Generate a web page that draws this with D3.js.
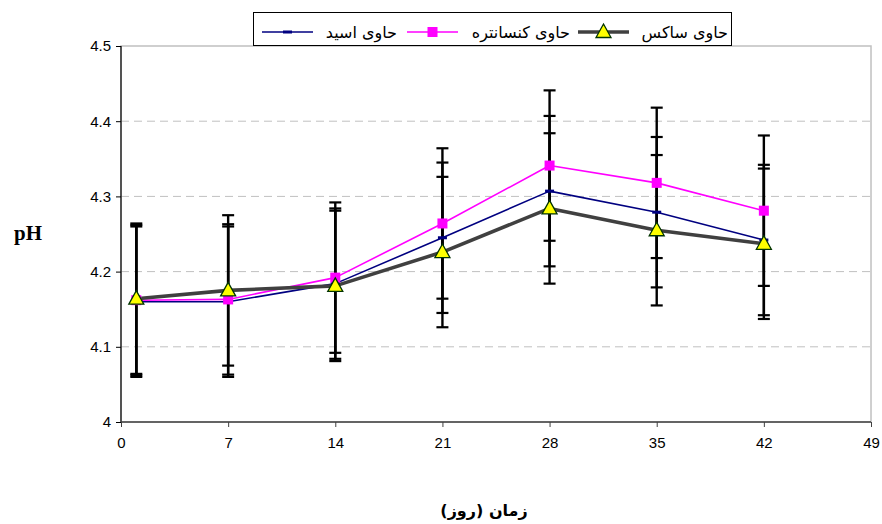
<!DOCTYPE html>
<html>
<head>
    <meta charset="UTF-8">
    <title>pH</title>
    <script src="https://d3js.org/d3.v7.min.js"></script>
    <style>
        html, body { margin: 0; padding: 0; background: #ffffff; overflow: hidden; }
        svg { display: block; }
    </style>
</head>
<body>
<svg width="882" height="524" id="mainsvg"></svg>
<script>
    // data
    const days = [1, 7, 14, 21, 28, 35, 42];
    const xTicks = [0, 7, 14, 21, 28, 35, 42, 49];
    const yTicks = [4, 4.1, 4.2, 4.3, 4.4, 4.5];
    const acid = [4.160, 4.160, 4.184, 4.245, 4.307, 4.279, 4.242];
    const concentrate = [4.162, 4.163, 4.192, 4.264, 4.341, 4.318, 4.281];
    const saks = [4.164, 4.175, 4.181, 4.226, 4.284, 4.255, 4.237];
    const errAcid = [0.1, 0.1, 0.1, 0.1, 0.1, 0.1, 0.1];
    const errConcentrate = [0.1, 0.1, 0.1, 0.1, 0.1, 0.1, 0.1];
    const errSaks = [0.1, 0.1, 0.1, 0.1, 0.1, 0.1, 0.1];
    const seriesNames = ['حاوی اسید', 'حاوی کنسانتره', 'حاوی ساکس'];

    const svg = d3.select('#mainsvg');
    const margin = {top: 46, right: 11, bottom: 102, left: 121};
    const innerWidth = 882 - margin.left - margin.right;
    const innerHeight = 524 - margin.top - margin.bottom;

    const xScale = d3.scaleLinear().domain([0, 49]).range([0, innerWidth]);
    const yScale = d3.scaleLinear().domain([4, 4.5]).range([innerHeight, 0]);

    const series = [
        {name: seriesNames[0], values: acid, err: errAcid, color: '#000080', width: 1.6, marker: 'dash'},
        {name: seriesNames[1], values: concentrate, err: errConcentrate, color: '#ff00ff', width: 1.6, marker: 'square'},
        {name: seriesNames[2], values: saks, err: errSaks, color: '#404040', width: 3.6, marker: 'triangle'}
    ];

    const g = svg.append('g').attr('transform', `translate(${margin.left}, ${margin.top})`);

    // plot area border (grey, top + right)
    g.append('rect')
        .attr('x', 0).attr('y', 0)
        .attr('width', innerWidth).attr('height', innerHeight)
        .attr('fill', 'none')
        .attr('stroke', '#c0c0c0')
        .attr('stroke-width', 1.5);

    // dashed gridlines
    g.selectAll('.grid')
        .data(yTicks.filter(d => d > 4 && d < 4.5))
        .join('line')
        .attr('class', 'grid')
        .attr('x1', 0).attr('x2', innerWidth)
        .attr('y1', d => yScale(d)).attr('y2', d => yScale(d))
        .attr('stroke', '#c0c0c0')
        .attr('stroke-width', 1)
        .attr('stroke-dasharray', '8,5');

    // axes
    const yAxis = d3.axisLeft(yScale)
        .tickValues(yTicks)
        .tickSize(5)
        .tickPadding(5)
        .tickFormat(d => d3.format('')(+d.toFixed(1)));
    const yAxisGroup = g.append('g').call(yAxis)
        .attr('font-family', 'Arial, "Liberation Sans", sans-serif')
        .attr('font-size', 15);
    yAxisGroup.select('.domain').attr('stroke', '#000').attr('stroke-width', 1.2).attr('d', `M0,0V${innerHeight}`);
    yAxisGroup.selectAll('.tick line').attr('stroke', '#000');
    yAxisGroup.selectAll('.tick text').attr('fill', '#000');

    const xAxis = d3.axisBottom(xScale)
        .tickValues(xTicks)
        .tickSize(5)
        .tickPadding(10);
    const xAxisGroup = g.append('g').attr('transform', `translate(0, ${innerHeight})`).call(xAxis)
        .attr('font-family', 'Arial, "Liberation Sans", sans-serif')
        .attr('font-size', 15);
    xAxisGroup.select('.domain').attr('stroke', '#404040').attr('stroke-width', 1.6).attr('d', `M0,0H${innerWidth}`);
    xAxisGroup.selectAll('.tick line').attr('stroke', '#404040');
    xAxisGroup.selectAll('.tick text').attr('fill', '#000');

    // error bars
    series.forEach(s => {
        const eb = g.append('g');
        days.forEach((d, i) => {
            const x = xScale(d);
            const top = yScale(s.values[i] + s.err[i]);
            const bot = yScale(s.values[i] - s.err[i]);
            eb.append('line').attr('x1', x).attr('x2', x).attr('y1', top).attr('y2', bot)
                .attr('stroke', '#000').attr('stroke-width', 2.4);
            [top, bot].forEach(y => {
                eb.append('line').attr('x1', x - 6).attr('x2', x + 6).attr('y1', y).attr('y2', y)
                    .attr('stroke', '#000').attr('stroke-width', 2.2);
            });
        });
    });

    // lines
    const line = d3.line()
        .x((v, i) => xScale(days[i]))
        .y(v => yScale(v));
    series.forEach(s => {
        g.append('path')
            .datum(s.values)
            .attr('d', line)
            .attr('fill', 'none')
            .attr('stroke', s.color)
            .attr('stroke-width', s.width)
            .attr('stroke-linejoin', 'round');
    });

    // markers
    const drawMarker = function(sel, type, x, y) {
        if (type === 'dash') {
            sel.append('rect').attr('x', x - 4.5).attr('y', y - 1.5).attr('width', 9).attr('height', 3)
                .attr('fill', '#000080');
        } else if (type === 'square') {
            sel.append('rect').attr('x', x - 5).attr('y', y - 5).attr('width', 10).attr('height', 10)
                .attr('fill', '#ff00ff');
        } else {
            sel.append('path')
                .attr('d', `M${x},${y - 8}L${x + 7.5},${y + 5.5}L${x - 7.5},${y + 5.5}Z`)
                .attr('fill', '#ffff00')
                .attr('stroke', '#003300')
                .attr('stroke-width', 1.3)
                .attr('stroke-linejoin', 'miter');
        }
    };
    series.forEach(s => {
        const mg = g.append('g');
        days.forEach((d, i) => drawMarker(mg, s.marker, xScale(d), yScale(s.values[i])));
    });

    // axis titles
    svg.append('text')
        .attr('x', 28).attr('y', 240)
        .attr('text-anchor', 'middle')
        .attr('font-family', '"Times New Roman", "Liberation Serif", serif')
        .attr('font-weight', 'bold')
        .attr('font-size', 21)
        .text('pH');
    svg.append('text')
        .attr('x', 484).attr('y', 516)
        .attr('text-anchor', 'middle')
        .attr('font-family', '"DejaVu Sans", sans-serif')
        .attr('font-weight', 'bold')
        .attr('font-size', 16)
        .text('\u200Fزمان (روز)\u200F');

    // legend
    const legend = svg.append('g');
    legend.append('rect')
        .attr('x', 253.5).attr('y', 12.5)
        .attr('width', 478).attr('height', 33)
        .attr('fill', '#fff')
        .attr('stroke', '#000')
        .attr('stroke-width', 1);
    const legendItems = [
        {s: series[2], lx: 578, tx: 728},
        {s: series[1], lx: 407, tx: 570},
        {s: series[0], lx: 262, tx: 397}
    ];
    legendItems.forEach(it => {
        const cy = 32;
        legend.append('line')
            .attr('x1', it.lx).attr('x2', it.lx + 51)
            .attr('y1', cy).attr('y2', cy)
            .attr('stroke', it.s.color)
            .attr('stroke-width', it.s.width);
        drawMarker(legend, it.s.marker, it.lx + 25.5, cy);
        legend.append('text')
            .attr('x', it.tx).attr('y', cy + 6)
            .attr('text-anchor', 'end')
            .attr('font-family', '"DejaVu Sans", sans-serif')
            .attr('font-size', 16)
            .text(it.s.name);
    });
</script>
</body>
</html>
